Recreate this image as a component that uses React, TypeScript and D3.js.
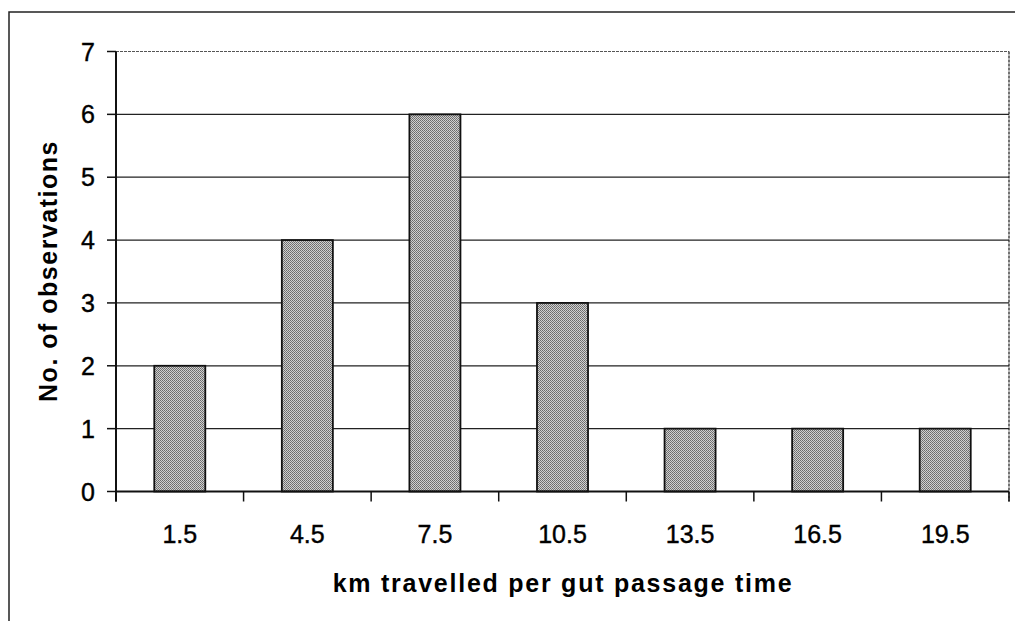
import React from "react";
import * as d3 from "d3";

const categories: string[] = ["1.5", "4.5", "7.5", "10.5", "13.5", "16.5", "19.5"];
const observations: number[] = [2, 4, 6, 3, 1, 1, 1];
const yTicks: number[] = [0, 1, 2, 3, 4, 5, 6, 7];
const xTitle = "km travelled per gut passage time";
const yTitle = "No. of observations";

const W = 1015;
const H = 621;
const left = 116;
const right = 1009;
const top = 51.5;
const bottom = 491.5;

export default function App() {
  const x = d3
    .scaleBand<string>()
    .domain(categories)
    .range([left, right])
    .paddingInner(0.6)
    .paddingOuter(0.3);
  const y = d3.scaleLinear().domain([0, 7]).range([bottom, top]);
  const step = x.step();
  const font = "Arial, 'Liberation Sans', sans-serif";
  const boundaries = d3.range(categories.length + 1).map((i) => left + i * step);

  return (
    <svg
      width={W}
      height={H}
      style={{ position: "absolute", left: 0, top: 0, background: "#fff" }}
    >
      <defs>
        <pattern id="dither" width="2" height="2" patternUnits="userSpaceOnUse">
          <rect width="2" height="2" fill="#d0d0d0" />
          <rect width="1" height="1" fill="#6a6a6a" />
          <rect x="1" y="1" width="1" height="1" fill="#787878" />
        </pattern>
      </defs>
      {/* outer chart border */}
      <rect x={9} y={12} width={W + 20} height={H + 20} fill="none" stroke="#222" strokeWidth={1.5} />

      {/* plot area border (top/right) */}
      <line x1={left} x2={right} y1={top} y2={top} stroke="#555" strokeWidth={1.2} strokeDasharray="3 1" />
      <line x1={right} x2={right} y1={top} y2={bottom + 10} stroke="#444" strokeWidth={1.5} strokeDasharray="3 1" />

      {/* gridlines */}
      {yTicks.filter((t) => t > 0 && t < 7).map((t) => (
        <line key={t} x1={left} x2={right} y1={y(t)} y2={y(t)} stroke="#222" strokeWidth={1.2} />
      ))}

      {/* bars */}
      {categories.map((c, i) => (
        <rect
          key={c}
          x={x(c)}
          y={y(observations[i])}
          width={x.bandwidth()}
          height={y(0) - y(observations[i])}
          fill="url(#dither)"
          stroke="#111"
          strokeWidth={1.8}
        />
      ))}

      {/* y axis */}
      <line x1={left} x2={left} y1={top} y2={bottom + 10} stroke="#111" strokeWidth={2} />
      {yTicks.map((t) => (
        <g key={t}>
          <line x1={left - 9} x2={left} y1={y(t)} y2={y(t)} stroke="#111" strokeWidth={1.5} />
          <text
            x={95}
            y={y(t)}
            dy="0.36em"
            textAnchor="end"
            fontFamily={font}
            fontSize={25}
            fill="#000"
            stroke="#000"
            strokeWidth={0.4}
          >
            {t}
          </text>
        </g>
      ))}

      {/* x axis */}
      <line x1={left} x2={right} y1={bottom} y2={bottom} stroke="#111" strokeWidth={2} />
      {boundaries.map((b, i) => (
        <line key={i} x1={b} x2={b} y1={bottom} y2={bottom + 10} stroke="#111" strokeWidth={1.5} />
      ))}
      {categories.map((c) => (
        <text
          key={c}
          x={(x(c) as number) + x.bandwidth() / 2}
          y={543}
          textAnchor="middle"
          fontFamily={font}
          fontSize={25}
          fill="#000"
          stroke="#000"
          strokeWidth={0.4}
        >
          {c}
        </text>
      ))}

      {/* titles */}
      <text
        x={563}
        y={592}
        textAnchor="middle"
        fontFamily={font}
        fontSize={25}
        fontWeight="bold"
        letterSpacing={1.75}
        fill="#000"
      >
        {xTitle}
      </text>
      <text
        transform={`translate(57, 271) rotate(-90)`}
        textAnchor="middle"
        fontFamily={font}
        fontSize={25}
        fontWeight="bold"
        letterSpacing={1.5}
        fill="#000"
      >
        {yTitle}
      </text>
    </svg>
  );
}
